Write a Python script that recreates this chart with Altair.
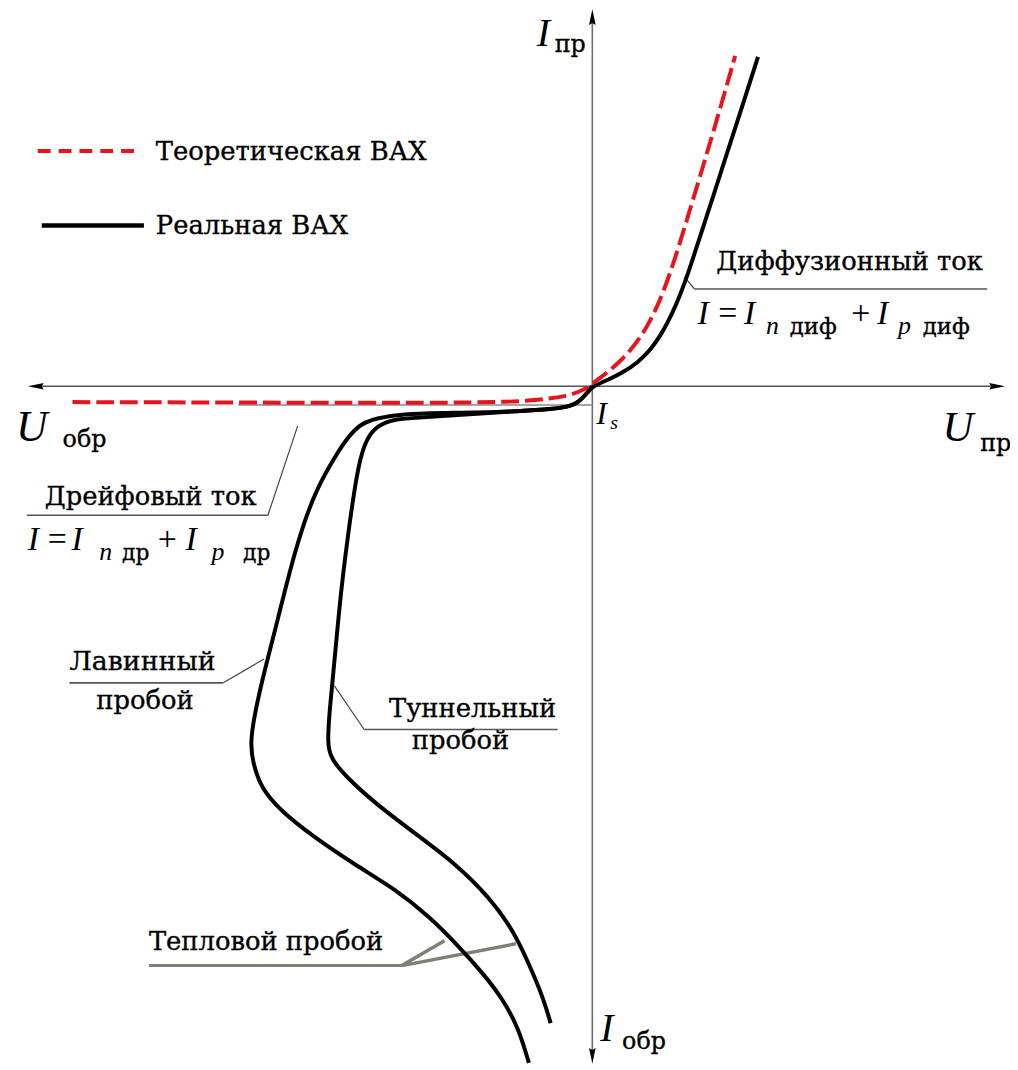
import altair as alt
import pandas as pd

# ---- Curve values (U, I) in drawing units; origin at the axes' crossing ----
theo_U = [-524, -347, -124, -64, -40, -27, -14, -4, 3, 30, 56, 76, 93, 109, 126, 144]
theo_I = [-16, -16.5, -17, -15, -12, -10, -6, -1, 5, 25, 58, 105, 160, 213, 270, 333]

aval_U = [-64, -74, -90, -110, -137, -164, -197, -240, -284, -314, -334, -342, -345, -340, -330,
          -317, -304, -290, -277, -260, -247, -234, -217, -190, -157, -90, -37, -22, -14, -7, 0,
          15, 31, 46, 59, 70, 80, 89, 97, 108, 123, 138, 153, 167]
aval_I = [-682, -648, -618, -592, -562, -535, -508, -482, -452, -428, -405, -380, -360, -328, -285,
          -235, -182, -135, -102, -72, -52, -38, -32, -28, -27, -26, -23, -20, -16, -9, 0,
          6, 14, 24, 37, 53, 72, 93, 115, 149, 195, 242, 288, 332]

tun_U = [-42, -50, -64, -80, -104, -137, -177, -217, -247, -264, -267, -265, -260, -254, -247,
         -240, -234, -227, -217, -200, -177, -137, -90, -37, -22, -14, -7, 0]
tun_I = [-642, -615, -582, -548, -515, -482, -452, -422, -395, -375, -360, -328, -278, -212, -155,
         -105, -72, -52, -40, -33, -32, -29, -26, -23, -20, -16, -9, 0]

OX, OY = 597, 385  # axes crossing in the picture


def ux(px):
    return px - OX


def iy(py):
    return OY - py


def curve(U, I):
    return pd.DataFrame({"x": U, "y": I, "o": list(range(len(U)))})


X = alt.X("x:Q", scale=alt.Scale(domain=[8 - OX, 1018 - OX], nice=False, zero=False), axis=None)
Y = alt.Y("y:Q", scale=alt.Scale(domain=[OY - 1070, OY - 8], nice=False, zero=False), axis=None)

# ---- axes, leaders, legend lines (segments) ----
seg_x1 = [36, 597, 240, 690, 700, 27, 270, 70, 225, 367, 367, 150, 405, 405, 38, 42]
seg_y1 = [385, 13, 404, 275, 287, 515, 515, 684, 684, 731, 731, 969, 969, 969, 148, 223]
seg_x2 = [1005, 597, 597, 700, 995, 270, 300, 225, 266, 562, 337, 405, 448, 520, 138, 145]
seg_y2 = [385, 1060, 404, 287, 287, 515, 425, 684, 660, 731, 687, 969, 944, 947, 148, 223]
seg_col = ["#555555", "#6b6b6b", "#8a8a8a", "#444444", "#555555", "#555555", "#444444", "#555555",
           "#444444", "#555555", "#444444", "#808072", "#808072", "#808072", "#e8141c", "#000000"]
seg_w = [1.6, 1.6, 1.4, 1.2, 1.6, 1.6, 1.2, 1.6, 1.2, 1.6, 1.2, 3, 3.5, 3.5, 4, 4.5]
seg_dash = [0, 0, 0, 0, 0, 0, 0, 0, 0, 0, 0, 0, 0, 0, 1, 0]

segs = pd.DataFrame({
    "x": [ux(v) for v in seg_x1], "y": [iy(v) for v in seg_y1],
    "x2": [ux(v) for v in seg_x2], "y2": [iy(v) for v in seg_y2],
    "c": seg_col, "w": seg_w, "d": seg_dash,
})

solid_segs = alt.Chart(segs[segs.d == 0]).mark_rule().encode(
    x=X, y=Y, x2="x2:Q", y2="y2:Q",
    color=alt.Color("c:N", scale=None), strokeWidth=alt.StrokeWidth("w:Q", scale=None))
dash_segs = alt.Chart(segs[segs.d == 1]).mark_rule(strokeDash=[13, 8]).encode(
    x=X, y=Y, x2="x2:Q", y2="y2:Q",
    color=alt.Color("c:N", scale=None), strokeWidth=alt.StrokeWidth("w:Q", scale=None))

# ---- arrow heads ----
arr = pd.DataFrame({"x": [ux(597), ux(1005), ux(597), ux(36)],
                    "y": [iy(13), iy(385), iy(1060), iy(385)],
                    "a": [0, 90, 180, 270]})
arrows = alt.Chart(arr).mark_point(shape="M0,-1L0.42,1L0,0.75L-0.42,1Z", filled=True,
                                   color="#000000", opacity=1, size=256, strokeWidth=0).encode(
    x=X, y=Y, angle=alt.Angle("a:Q", scale=None))

# ---- curves ----
theo = alt.Chart(curve(theo_U, theo_I)).mark_line(
    color="#e8141c", strokeWidth=4, strokeDash=[18, 6], interpolate="basis").encode(
    x=X, y=Y, order="o:Q")
aval = alt.Chart(curve(aval_U, aval_I)).mark_line(
    color="#000000", strokeWidth=4, interpolate="basis").encode(x=X, y=Y, order="o:Q")
tun = alt.Chart(curve(tun_U, tun_I)).mark_line(
    color="#000000", strokeWidth=4, interpolate="basis").encode(x=X, y=Y, order="o:Q")

# ---- texts ----
FONT_LAT = "Liberation Serif, Times New Roman, serif"
FONT_CYR = "DejaVu Serif, Noto Serif, FreeSerif, Liberation Serif, serif"
txt_cyr = [
    ("Теоретическая ВАХ", 157, 157, 26),
    ("Реальная ВАХ", 157, 232, 26),
    ("Диффузионный ток", 722, 268, 26),
    ("диф", 796, 332, 23), ("диф", 930, 332, 23),
    ("Дрейфовый ток", 45, 505, 26),
    ("др", 123, 560, 22), ("др", 245, 560, 22),
    ("Лавинный", 70, 671, 27), ("пробой", 97, 710, 26),
    ("Туннельный", 392, 718, 26), ("пробой", 415, 751, 26),
    ("Тепловой пробой", 150, 953, 26),
    ("пр", 559, 48, 24),
    ("обр", 63, 446, 24),
    ("пр", 988, 450, 24),
    ("обр", 627, 1053, 24),
]
txt_sym = [
    ("=", 724, 322, 34), ("+", 858, 322, 34),
    ("=", 48, 550, 34), ("+", 159, 550, 34),
]
txt_italic = [
    ("I", 703, 322, 34), ("I", 750, 322, 34), ("n", 772, 332, 26), ("I", 884, 322, 34), ("p", 905, 332, 26),
    ("I", 28, 550, 34), ("I", 72, 550, 34), ("n", 100, 560, 26), ("I", 187, 550, 34), ("p", 213, 560, 26),
    ("I", 541, 42, 40),
    ("U", 16, 440, 44),
    ("U", 950, 440, 43),
    ("I", 605, 1045, 40),
    ("I", 601, 423, 32), ("s", 615, 428, 20),
]


def tframe(rows):
    return pd.DataFrame({"t": [r[0] for r in rows], "x": [ux(r[1]) for r in rows],
                         "y": [iy(r[2]) for r in rows], "s": [r[3] for r in rows]})


tc = alt.Chart(tframe(txt_cyr)).mark_text(
    font=FONT_CYR, align="left", baseline="alphabetic", color="#000000",
    stroke="#000000", strokeWidth=0.35).encode(
    x=X, y=Y, text="t:N", size=alt.Size("s:Q", scale=None))
ts = alt.Chart(tframe(txt_sym)).mark_text(
    font=FONT_LAT, align="left", baseline="alphabetic", color="#000000").encode(
    x=X, y=Y, text="t:N", size=alt.Size("s:Q", scale=None))
ti = alt.Chart(tframe(txt_italic)).mark_text(
    font=FONT_LAT, align="left", baseline="alphabetic", fontStyle="italic", color="#000000").encode(
    x=X, y=Y, text="t:N", size=alt.Size("s:Q", scale=None))

chart = alt.layer(solid_segs, dash_segs, theo, aval, tun, arrows, tc, ts, ti).properties(
    width=1010, height=1062, padding=0, autosize=alt.AutoSizeParams(type="none"),
    background="#ffffff").configure_view(stroke=None)

chart.save("out.html", embed_options={"renderer": "svg", "actions": False})
